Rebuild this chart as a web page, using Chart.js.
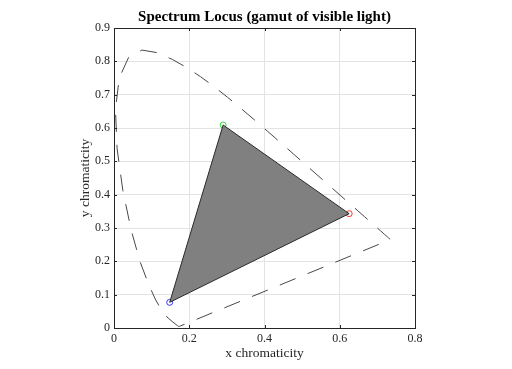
<!DOCTYPE html>
<html><head><meta charset="utf-8">
<script src="https://cdn.jsdelivr.net/npm/chart.js@4/dist/chart.umd.min.js"></script>
<style>html,body{margin:0;padding:0;background:#fff}#wrap{width:512px;height:369px}</style>
</head><body><div id="wrap"><canvas id="c" width="512" height="369"></canvas></div>
<script>
// CIE 1931 spectrum locus (x, y), 380..780 nm, closed by the purple line
const locusX = [0.1741,0.1733,0.1714,0.1689,0.1644,0.1566,0.1440,0.1355,0.1241,0.1096,0.0913,0.0687,0.0454,0.0235,0.0082,0.0039,0.0139,0.0389,0.0743,0.1142,0.1547,0.1929,0.2296,0.2658,0.3016,0.3373,0.3731,0.4087,0.4441,0.4788,0.5125,0.5448,0.5752,0.6029,0.6270,0.6482,0.6658,0.6915,0.7079,0.7190,0.7260,0.7300,0.7334,0.7347,0.7347,0.1741];
const locusY = [0.0050,0.0048,0.0051,0.0069,0.0109,0.0177,0.0297,0.0399,0.0578,0.0868,0.1327,0.2007,0.2950,0.4127,0.5384,0.6548,0.7502,0.8120,0.8338,0.8262,0.8059,0.7816,0.7543,0.7243,0.6923,0.6589,0.6245,0.5896,0.5547,0.5202,0.4866,0.4544,0.4242,0.3965,0.3725,0.3514,0.3340,0.3083,0.2920,0.2809,0.2740,0.2700,0.2666,0.2653,0.2653,0.0050];
// Primaries (R, G, B) and white point
const primX = [0.625, 0.290, 0.148];
const primY = [0.343, 0.609, 0.077];
const primColors = ['#ff3030', '#30e030', '#3030ff'];
const whiteX = [0.285];
const whiteY = [0.304];
const xTicks = [0, 0.2, 0.4, 0.6, 0.8];
const yTicks = [0, 0.1, 0.2, 0.3, 0.4, 0.5, 0.6, 0.7, 0.8, 0.9];

const FONT = "'Liberation Serif', 'DejaVu Serif', serif";
const AX = '#262626';

const locus = locusX.map((x, i) => ({x, y: locusY[i]}));
const tri = [0, 1, 2, 0].map(i => ({x: primX[i], y: primY[i]}));

const datasets = [
  {data: locus, showLine: true, borderColor: '#484848', borderWidth: 1, borderDash: [17, 13], pointRadius: 0, fill: false, tension: 0},
  {data: tri, showLine: true, borderColor: '#2a2a2a', borderWidth: 1, backgroundColor: '#808080', fill: 'shape', pointRadius: 0, tension: 0}
];
primX.forEach((x, i) => datasets.push({data: [{x, y: primY[i]}], pointRadius: 3, pointBorderColor: primColors[i], pointBackgroundColor: 'rgba(0,0,0,0)', pointBorderWidth: 1, showLine: false}));
datasets.push({data: [{x: whiteX[0], y: whiteY[0]}], pointRadius: 3, pointBorderColor: '#d8d8d8', pointBackgroundColor: 'rgba(0,0,0,0)', pointBorderWidth: 1, showLine: false});

const boxPlugin = {
  id: 'box',
  afterDraw(chart) {
    const {ctx, chartArea: a, scales} = chart;
    ctx.save();
    ctx.strokeStyle = AX; ctx.lineWidth = 1;
    ctx.beginPath();
    const tl = 3;
    xTicks.forEach(v => {
      const p = Math.round(scales.x.getPixelForValue(v)) + 0.5;
      ctx.moveTo(p, a.bottom); ctx.lineTo(p, a.bottom - tl);
      ctx.moveTo(p, a.top); ctx.lineTo(p, a.top + tl);
    });
    yTicks.forEach(v => {
      const p = Math.round(scales.y.getPixelForValue(v)) + 0.5;
      ctx.moveTo(a.left, p); ctx.lineTo(a.left + tl, p);
      ctx.moveTo(a.right, p); ctx.lineTo(a.right - tl, p);
    });
    ctx.stroke();
    ctx.strokeRect(Math.round(a.left) + 0.5, Math.round(a.top) + 0.5, Math.round(a.right - a.left), Math.round(a.bottom - a.top));
    ctx.restore();
  }
};

new Chart(document.getElementById('c'), {
  type: 'scatter',
  data: {datasets},
  options: {
    responsive: false, animation: false, devicePixelRatio: 1,
    layout: {padding: {left: 0, right: 97, top: 0, bottom: 0}},
    plugins: {
      legend: {display: false}, tooltip: {enabled: false},
      title: {display: true, fullSize: false, text: 'Spectrum Locus (gamut of visible light)', color: '#000',
        font: {family: FONT, size: 15, weight: 'bold', lineHeight: 1.2}, padding: {top: 8, bottom: 2}}
    },
    scales: {
      x: {type: 'linear', min: 0, max: 0.8,
        afterBuildTicks: s => { s.ticks = xTicks.map(v => ({value: v})); },
        afterFit: s => { s.height = 41; },
        ticks: {color: AX, font: {family: FONT, size: 12}, padding: 4, maxRotation: 0, callback: v => String(+v.toFixed(2))},
        grid: {color: '#e3e3e3', lineWidth: 1, drawTicks: false},
        border: {display: false},
        title: {display: true, text: 'x chromaticity', color: AX, font: {family: FONT, size: 13.5, lineHeight: 1.2}, padding: {top: 0, bottom: 7}}
      },
      y: {type: 'linear', min: 0, max: 0.9,
        afterBuildTicks: s => { s.ticks = yTicks.map(v => ({value: v})); },
        afterFit: s => { s.width = 114; },
        ticks: {color: AX, font: {family: FONT, size: 12}, padding: 4, callback: v => String(+v.toFixed(2))},
        grid: {color: '#e3e3e3', lineWidth: 1, drawTicks: false},
        border: {display: false},
        title: {display: true, text: 'y chromaticity', color: AX, font: {family: FONT, size: 13.5, lineHeight: 1.2}, padding: {top: 77.5, bottom: 0}}
      }
    }
  },
  plugins: [boxPlugin]
});
</script></body></html>
